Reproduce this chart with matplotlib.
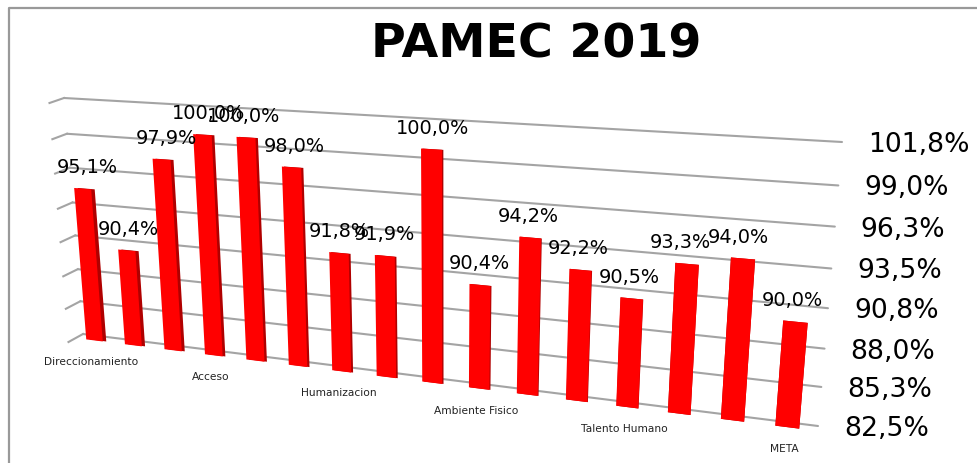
import numpy as np
import matplotlib
matplotlib.use("Agg")
import matplotlib.pyplot as plt
import matplotlib.transforms as mtransforms

# values
values = [95.1, 90.4, 97.9, 100.0, 100.0, 98.0, 91.8, 91.9,
          100.0, 90.4, 94.2, 92.2, 90.5, 93.3, 94.0, 90.0]
levels = [82.5, 85.3, 88.0, 90.8, 93.5, 96.3, 99.0, 101.8]
group_names = ["Direccionamiento", "Acceso", "Humanizacion",
               "Ambiente Fisico", "Talento Humano", "META"]
group_bars = [0, 3, 6, 9, 12, 15]
# the data labels are not all centred on their bars in the original
label_nudge = [5, 2, 5, 6, -2, 3, 0, 0, 1, -1, -2, -2, -2, -7, -5, -3]


def pct(v):
    return f"{v:.1f}%".replace(".", ",")


class WallTransform(mtransforms.Transform):
    """Maps (category, value) to picture pixels, through a perspective."""
    input_dims = 2
    output_dims = 2

    def __init__(self, src, dst):
        super().__init__()
        rows, rhs = [], []
        for (x, y), (u, w) in zip(src, dst):
            rows.append([x, y, 1, 0, 0, 0, -u * x, -u * y])
            rows.append([0, 0, 0, x, y, 1, -w * x, -w * y])
            rhs += [u, w]
        self.h = np.append(np.linalg.solve(rows, rhs), 1).reshape(3, 3)

    def transform_non_affine(self, values):
        pts = np.column_stack([values, np.ones(len(values))]) @ self.h.T
        return pts[:, :2] / pts[:, 2:]


W, H = 977, 464
fig = plt.figure(figsize=(W / 100, H / 100), dpi=100)
ax = fig.add_axes([0, 0, 1, 1])
ax.axis("off")

c_left, c_right = -0.3, 15.55
v_low, v_high = levels[0], levels[-1]
wall = WallTransform(
    [(c_left, v_high), (c_right, v_high), (c_right, v_low), (c_left, v_low)],
    [(64, 99), (842, 143), (818, 427), (83, 335)])
wall_data = wall + ax.transData

# grid lines on the back wall, with the small kink on the left side
for i, lev in enumerate(levels):
    ax.plot([c_left, c_right], [lev, lev], color="#a4a4a4", lw=1.5,
            transform=wall_data, zorder=1, solid_capstyle="round")
    x0, y0 = wall.transform([(c_left, lev)])[0]
    kink = 8 - 3 * i / (len(levels) - 1)
    ax.plot([x0, x0 - 14.5], [y0, y0 + kink], color="#a4a4a4", lw=1.5, zorder=1)
    ax.annotate(pct(lev), (c_right, lev), xycoords=wall_data,
                xytext=(26, -2), textcoords="offset pixels",
                ha="left", va="center", fontsize=19.2, color="black")

# bars sit a little in front of the wall
front = mtransforms.Affine2D().translate(0, 5) + ax.transData
bar_data = wall + front
cats = np.arange(len(values))
heights = np.array(values) - v_low
for c, h in zip(cats, heights):
    side = max(3.5 * (1 - c / 13), 0)
    shift = mtransforms.Affine2D().translate(side, 0)
    ax.bar(c, h, bottom=v_low, width=0.43, color="#b00000", linewidth=0,
           transform=wall + shift + front, zorder=2)
ax.bar(cats, heights, bottom=v_low, width=0.43, color="#ff0000", linewidth=0,
       transform=bar_data, zorder=3)

for c, v, dx in zip(cats, values, label_nudge):
    ax.annotate(pct(v), (c, v), xycoords=bar_data, xytext=(dx, 22),
                textcoords="offset pixels", ha="center", va="center",
                fontsize=13.9, color="black", zorder=5)

for name, c in zip(group_names, group_bars):
    ax.annotate(name, (c, v_low), xycoords=bar_data, xytext=(-3, -21),
                textcoords="offset pixels", ha="center", va="center",
                fontsize=7.7, color="#222222")

ax.set_xlim(0, W)
ax.set_ylim(H, 0)

# outer frame, only its top and left edges are in the picture
ax.plot([9, 9, W], [H, 8.5, 8.5], color="#999999", lw=1.6, zorder=0)
ax.text(536, 45, "PAMEC 2019", ha="center", va="center",
        fontsize=34.2, fontweight="bold", color="black")

fig.savefig("out.png", dpi=100)
